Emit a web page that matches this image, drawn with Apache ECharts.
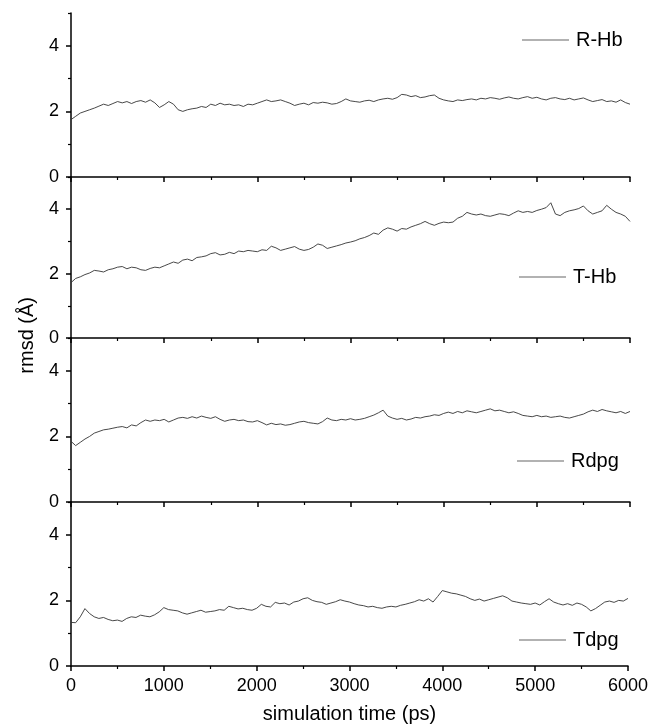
<!DOCTYPE html>
<html>
<head>
<meta charset="utf-8">
<script src="https://cdn.jsdelivr.net/npm/echarts@6/dist/echarts.min.js"></script>
<style>
html,body{margin:0;padding:0;background:#fff;}
#chart{width:651px;height:726px;}
</style>
</head>
<body>
<div id="chart"></div>
<script>
// Sampling step 50 ps, 0..6000 ps
var timeStep = 50;
var timeCount = 121;

var seriesNames = ['R-Hb', 'T-Hb', 'Rdpg', 'Tdpg'];

var rHb = [1.75,1.85,1.95,2.0,2.05,2.1,2.16,2.22,2.18,2.24,2.3,2.26,2.3,2.24,2.3,2.33,2.28,2.35,2.26,2.12,
2.2,2.3,2.22,2.05,2.0,2.05,2.08,2.1,2.15,2.12,2.22,2.18,2.25,2.2,2.22,2.18,2.2,2.15,2.22,2.2,
2.25,2.3,2.35,2.3,2.32,2.35,2.3,2.25,2.18,2.22,2.25,2.2,2.27,2.25,2.28,2.26,2.22,2.24,2.3,2.38,
2.32,2.3,2.28,2.32,2.34,2.3,2.35,2.38,2.4,2.37,2.42,2.52,2.5,2.45,2.48,2.42,2.44,2.48,2.5,2.4,
2.35,2.32,2.3,2.35,2.33,2.36,2.38,2.35,2.4,2.38,2.42,2.4,2.37,2.41,2.44,2.4,2.38,2.42,2.45,2.4,
2.43,2.38,2.35,2.4,2.42,2.38,2.36,2.4,2.35,2.38,2.41,2.35,2.3,2.33,2.36,2.3,2.32,2.28,2.35,2.27,2.22];

var tHb = [1.72,1.85,1.9,1.97,2.02,2.1,2.08,2.05,2.12,2.15,2.2,2.22,2.15,2.2,2.18,2.12,2.1,2.16,2.2,2.18,
2.24,2.3,2.36,2.32,2.42,2.45,2.4,2.5,2.52,2.55,2.62,2.65,2.58,2.6,2.66,2.62,2.7,2.68,2.72,2.7,
2.68,2.74,2.72,2.85,2.8,2.72,2.76,2.8,2.84,2.76,2.72,2.75,2.82,2.92,2.88,2.78,2.82,2.86,2.9,2.95,
2.98,3.02,3.08,3.12,3.18,3.26,3.22,3.35,3.42,3.38,3.32,3.4,3.38,3.45,3.5,3.55,3.62,3.55,3.5,3.56,
3.6,3.58,3.6,3.72,3.78,3.9,3.85,3.82,3.85,3.8,3.78,3.82,3.86,3.84,3.8,3.88,3.95,3.9,3.93,3.9,
3.96,4.0,4.05,4.2,3.85,3.8,3.9,3.95,3.98,4.02,4.1,3.95,3.85,3.9,3.95,4.12,4.0,3.9,3.85,3.78,3.62];

var rdpg = [1.85,1.72,1.82,1.92,2.0,2.1,2.15,2.2,2.22,2.25,2.28,2.3,2.26,2.35,2.32,2.42,2.5,2.46,2.5,2.48,
2.52,2.44,2.5,2.56,2.58,2.55,2.6,2.56,2.62,2.58,2.55,2.6,2.52,2.46,2.5,2.52,2.48,2.5,2.45,2.44,
2.48,2.42,2.35,2.4,2.36,2.38,2.34,2.36,2.4,2.44,2.46,2.42,2.4,2.38,2.45,2.56,2.5,2.48,2.52,2.5,
2.54,2.5,2.52,2.55,2.6,2.65,2.72,2.8,2.62,2.56,2.52,2.55,2.5,2.53,2.58,2.56,2.6,2.62,2.66,2.64,
2.7,2.74,2.7,2.76,2.72,2.78,2.75,2.72,2.76,2.8,2.84,2.78,2.8,2.76,2.72,2.75,2.7,2.64,2.62,2.6,
2.64,2.6,2.62,2.58,2.6,2.62,2.58,2.56,2.6,2.64,2.68,2.75,2.8,2.76,2.82,2.78,2.75,2.72,2.76,2.7,2.76];

var tdpg = [1.33,1.32,1.5,1.75,1.6,1.5,1.45,1.48,1.42,1.38,1.4,1.36,1.45,1.5,1.48,1.55,1.52,1.5,1.56,1.65,
1.78,1.72,1.7,1.68,1.62,1.58,1.62,1.66,1.7,1.64,1.66,1.68,1.72,1.7,1.82,1.78,1.74,1.76,1.72,1.7,
1.76,1.88,1.82,1.8,1.94,1.9,1.92,1.86,1.95,1.98,2.05,2.08,2.0,1.96,1.94,1.88,1.92,1.96,2.02,1.98,
1.95,1.9,1.86,1.84,1.8,1.82,1.78,1.76,1.8,1.82,1.8,1.85,1.88,1.92,1.96,2.02,1.98,2.05,1.95,2.12,
2.3,2.26,2.22,2.2,2.16,2.12,2.05,2.0,2.04,1.98,2.02,2.06,2.1,2.14,2.08,1.98,1.95,1.92,1.9,1.88,
1.92,1.86,1.96,2.05,1.95,1.9,1.86,1.9,1.85,1.92,1.88,1.8,1.68,1.75,1.85,1.95,1.98,1.94,2.0,1.98,2.06];

var xTickValues = [0, 1000, 2000, 3000, 4000, 5000, 6000];
var yMajorTicks = [0, 2, 4];
var yMinorTicks = [1, 3, 5];

var allValues = [rHb, tHb, rdpg, tdpg];

var times = [];
for (var i = 0; i < timeCount; i++) times.push(i * timeStep);

function pairs(vals) {
  return vals.map(function (v, i) { return [times[i], v]; });
}

var FONT = 'Liberation Sans, Arial, sans-serif';
var gridTops = [13, 177, 338, 502];
var gridHeights = [164, 161, 164, 164];
var legendCenters = [40, 277, 461, 640];
var legendLefts = [522, 519, 517, 519];

var grids = [], xAxes = [], yAxes = [], series = [], legends = [];
for (var k = 0; k < 4; k++) {
  grids.push({ left: 71, width: 559, top: gridTops[k], height: gridHeights[k], containLabel: false });
  xAxes.push({
    type: 'value', gridIndex: k, min: 0, max: 6000, interval: 1000,
    axisLine: { show: true, onZero: false, lineStyle: { color: '#000', width: 1.5 } },
    axisTick: { show: true, length: 5, lineStyle: { color: '#000', width: 1.5 } },
    minorTick: { show: true, splitNumber: 2, length: 3, lineStyle: { color: '#000', width: 1.2 } },
    axisLabel: {
      show: k === 3, color: '#000', fontSize: 18, fontFamily: FONT, margin: 11,
      customValues: xTickValues,
      formatter: function (v) { return String(v); }
    },
    splitLine: { show: false },
    name: k === 3 ? 'simulation time (ps)' : '',
    nameLocation: 'middle', nameGap: 38,
    nameTextStyle: { color: '#000', fontSize: 20, fontFamily: FONT }
  });
  yAxes.push({
    type: 'value', gridIndex: k, min: 0, max: 5, interval: 1,
    axisLine: { show: true, onZero: false, lineStyle: { color: '#000', width: 1.5 } },
    axisTick: { show: true, length: 5, customValues: yMajorTicks, lineStyle: { color: '#000', width: 1.5 } },
    axisLabel: { show: true, color: '#000', fontSize: 18, fontFamily: FONT, margin: 12, customValues: yMajorTicks,
      formatter: function (v) { return String(v); } },
    splitLine: { show: false }
  });
  yAxes.push({
    type: 'value', gridIndex: k, min: 0, max: 5, interval: 1, position: 'left',
    axisLine: { show: false },
    axisTick: { show: true, length: 3, customValues: yMinorTicks, lineStyle: { color: '#000', width: 1.2 } },
    axisLabel: { show: false },
    splitLine: { show: false }
  });
  series.push({
    name: seriesNames[k], type: 'line', xAxisIndex: k, yAxisIndex: 2 * k,
    data: pairs(allValues[k]), showSymbol: false, symbol: 'none',
    lineStyle: { color: '#333', width: 0.9 }, itemStyle: { color: '#333' },
    animation: false
  });
  legends.push({
    data: [seriesNames[k]], left: legendLefts[k], top: legendCenters[k] - 11,
    icon: 'rect', itemWidth: 47, itemHeight: 1, itemGap: 0, padding: 0,
    itemStyle: { color: '#666' },
    textStyle: { color: '#000', fontSize: 20, fontFamily: FONT, lineHeight: 22, padding: [0, 0, 0, 2] }
  });
}

var chart = echarts.init(document.getElementById('chart'), null, { renderer: 'canvas' });
chart.setOption({
  animation: false,
  backgroundColor: '#fff',
  grid: grids,
  xAxis: xAxes,
  yAxis: yAxes,
  legend: legends,
  series: series,
  graphic: [{
    type: 'text', left: 17, top: 297, rotation: Math.PI / 2,
    style: { text: 'rmsd (Å)', fill: '#000', font: '20px ' + FONT }
  }]
});
</script>
</body>
</html>
